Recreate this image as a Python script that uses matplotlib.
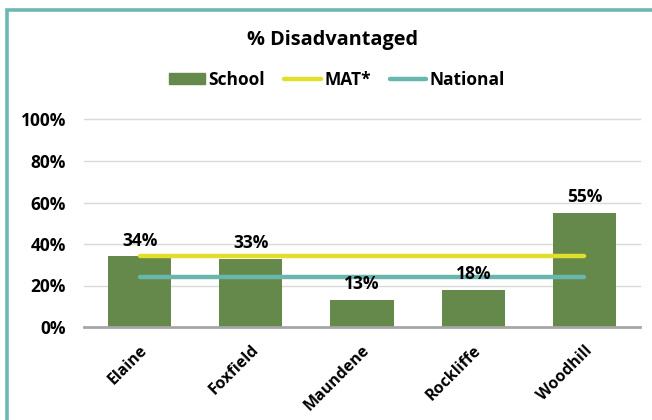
import matplotlib
matplotlib.use("Agg")
import matplotlib.pyplot as plt
from matplotlib.patches import Rectangle
from matplotlib.lines import Line2D

schools = ["Elaine", "Foxfield", "Maundene", "Rockliffe", "Woodhill"]
school_pct = [34, 33, 13, 18, 55]
mat_pct = [34, 34, 34, 34, 34]
national_pct = [24, 24, 24, 24, 24]
y_ticks = [0, 20, 40, 60, 80, 100]

green = "#65894A"
yellow = "#E2DF2C"
teal = "#68B6AE"

plt.rcParams["font.family"] = ["Open Sans", "DejaVu Sans"]
plt.rcParams["font.weight"] = "bold"

fig = plt.figure(figsize=(6.52, 4.20), dpi=100)
fig.patches.append(Rectangle((6.5 / 652, -0.2), 1.2, 1.2 - 10 / 420, transform=fig.transFigure,
                             fill=False, edgecolor="#6DB8AF", linewidth=2.6, zorder=0))

ax = fig.add_axes([84 / 652, 93 / 420, 556 / 652, 207.5 / 420])
x = list(range(len(schools)))
ax.bar(x, school_pct, width=0.57, color=green, zorder=2)
ax.plot(x, mat_pct, color=yellow, linewidth=3.2, solid_capstyle="round", zorder=3)
ax.plot(x, national_pct, color=teal, linewidth=3.2, solid_capstyle="round", zorder=3)

for i, v in enumerate(school_pct):
    ax.annotate(f"{v}%", (i, v), xytext=(0, 5), textcoords="offset points",
                ha="center", va="bottom", fontsize=12.5, fontweight="bold")

for t in y_ticks[1:]:
    ax.axhline(t, color="#D9D9D9", linewidth=1, zorder=0, clip_on=False)

ax.set_xlim(-0.5, len(schools) - 0.5)
ax.set_ylim(0, 100)
ax.set_yticks(y_ticks)
ax.set_yticklabels([f"{t}%" for t in y_ticks], fontsize=12.5, fontweight="bold")
ax.set_xticks(x)
ax.set_xticklabels(schools, rotation=45, ha="right", rotation_mode="anchor",
                   fontsize=11.5, fontweight="bold")
ax.tick_params(axis="both", length=0)
ax.tick_params(axis="y", pad=13)
ax.tick_params(axis="x", pad=11)
for s in ["top", "right", "left"]:
    ax.spines[s].set_visible(False)
ax.spines["bottom"].set_color("#A6A6A6")
ax.spines["bottom"].set_linewidth(2)
ax.spines["bottom"].set_zorder(4)

fig.text(333 / 652, 1 - 40 / 420, "% Disadvantaged", ha="center", va="center",
         fontsize=14.3, fontweight="bold")

handles = [Rectangle((0, 0), 1, 1, color=green),
           Line2D([], [], color=yellow, linewidth=3.2, solid_capstyle="round"),
           Line2D([], [], color=teal, linewidth=3.2, solid_capstyle="round")]
fig.legend(handles, ["School", "MAT*", "National"], loc="center",
           bbox_to_anchor=(337 / 652, 1 - 80 / 420), ncol=3, frameon=False,
           prop={"size": 12.5, "weight": "bold"}, handlelength=2.1, handleheight=0.6,
           handletextpad=0.2, columnspacing=1.1)

fig.savefig("out.png", dpi=100)
